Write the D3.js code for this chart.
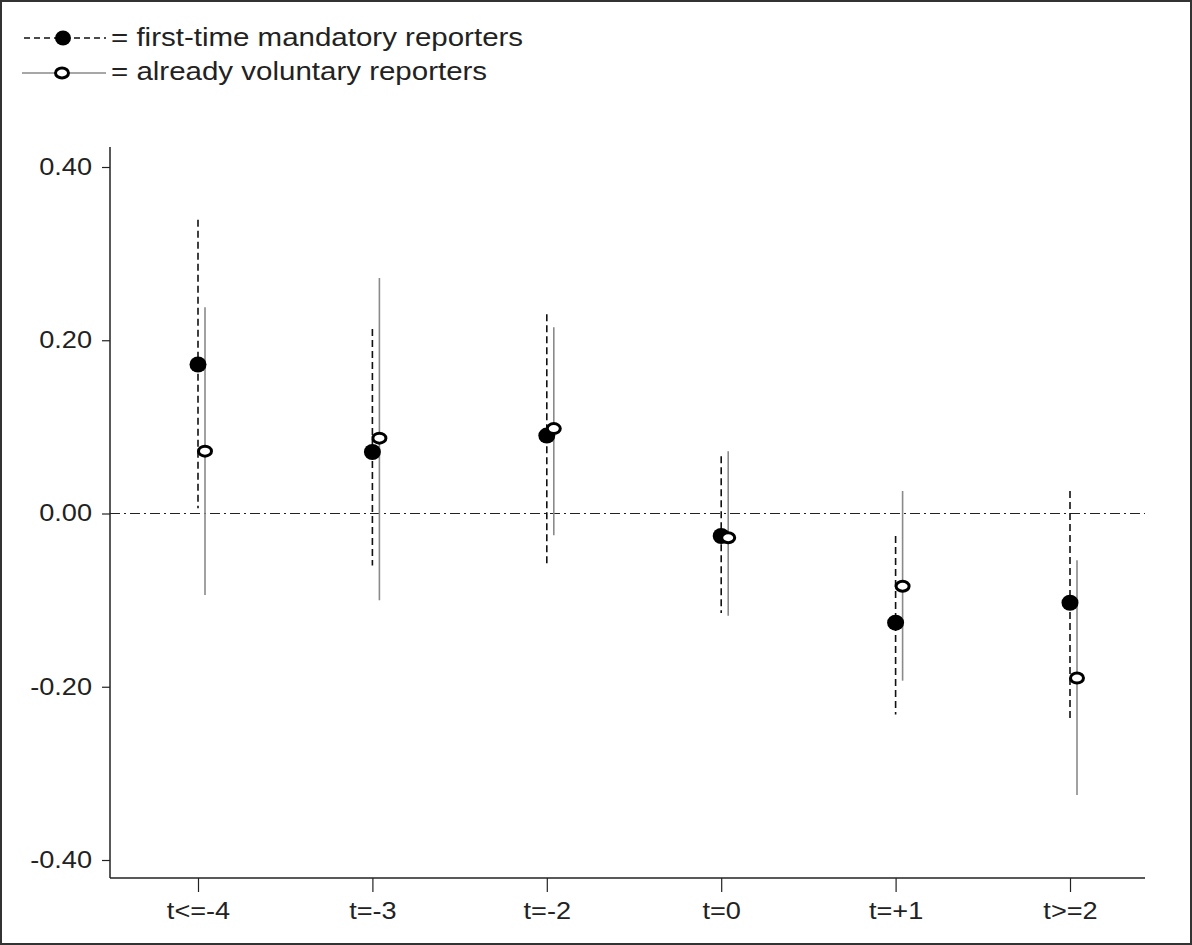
<!DOCTYPE html>
<html><head><meta charset="utf-8">
<script src="https://cdn.jsdelivr.net/npm/d3@7"></script>
<style>
html,body{margin:0;padding:0;background:#fff;}
svg{display:block;font-family:"Liberation Sans",Arial,sans-serif;}
</style></head>
<body>
<svg id="chart" width="1192" height="945"></svg>
<script>
const categories = ["t<=-4","t=-3","t=-2","t=0","t=+1","t>=2"];
const mandatoryEst = [0.172, 0.071, 0.090, -0.026, -0.126, -0.103];
const mandatoryLo  = [0.006, -0.060, -0.060, -0.115, -0.232, -0.239];
const mandatoryHi  = [0.339, 0.213, 0.230, 0.066, -0.026, 0.026];
const voluntaryEst = [0.072, 0.087, 0.098, -0.028, -0.084, -0.190];
const voluntaryLo  = [-0.094, -0.100, -0.025, -0.118, -0.193, -0.325];
const voluntaryHi  = [0.238, 0.272, 0.215, 0.072, 0.026, -0.054];
const yTicks = [0.40, 0.20, 0.00, -0.20, -0.40];
const legendLabels = ["= first-time mandatory reporters", "= already voluntary reporters"];

const SX = 1.18; // horizontal stretch of text in the reference
const svg = d3.select("#chart");
svg.append("rect").attr("x",1).attr("y",1).attr("width",1190).attr("height",943)
  .attr("fill","#fff").attr("stroke","#333").attr("stroke-width",2);

const x = d3.scalePoint().domain(categories).range([198,1070]);
const y = d3.scaleLinear().domain([-0.4,0.4]).range([860,167]);
const off = 7;

// axes lines
svg.append("line").attr("x1",110).attr("x2",110).attr("y1",147).attr("y2",878)
  .attr("stroke","#222").attr("stroke-width",1.5);
svg.append("line").attr("x1",110).attr("x2",1145).attr("y1",878).attr("y2",878)
  .attr("stroke","#222").attr("stroke-width",1.5);

// y axis
const fmt = d3.format(".2f");
const yAxis = d3.axisLeft(y).tickValues(yTicks).tickFormat(d => fmt(d).replace("\u2212","-")).tickSize(8).tickPadding(10);
const gy = svg.append("g").attr("transform","translate(110,0)").call(yAxis);
gy.select(".domain").remove();
gy.selectAll(".tick line").attr("stroke","#222").attr("stroke-width",1.2);
gy.selectAll(".tick text").each(function(){
  const t = d3.select(this); const tx = +t.attr("x");
  t.attr("x",0).attr("transform",`translate(${tx},0) scale(${SX},1)`);
}).attr("font-size",23).attr("fill","#222")
  .attr("font-family","'Liberation Sans',Arial,sans-serif");

// x axis
const xAxis = d3.axisBottom(x).tickSize(14).tickPadding(11);
const gx = svg.append("g").attr("transform","translate(0,878)").call(xAxis);
gx.select(".domain").remove();
gx.selectAll(".tick line").attr("stroke","#222").attr("stroke-width",1.2);
gx.selectAll(".tick text").attr("transform",`scale(${SX},1)`).attr("font-size",23).attr("fill","#222")
  .attr("font-family","'Liberation Sans',Arial,sans-serif");

// zero line
svg.append("line").attr("x1",110).attr("x2",1145).attr("y1",y(0)).attr("y2",y(0))
  .attr("stroke","#222").attr("stroke-width",1.2).attr("stroke-dasharray","10,4,2,4");

const idx = d3.range(categories.length);

// CI lines
svg.append("g").selectAll("line").data(idx).join("line")
  .attr("x1",i=>x(categories[i])+off).attr("x2",i=>x(categories[i])+off)
  .attr("y1",i=>y(voluntaryHi[i])).attr("y2",i=>y(voluntaryLo[i]))
  .attr("stroke","#8a8a8a").attr("stroke-width",1.6);
svg.append("g").selectAll("line").data(idx).join("line")
  .attr("x1",i=>x(categories[i])).attr("x2",i=>x(categories[i]))
  .attr("y1",i=>y(mandatoryHi[i])).attr("y2",i=>y(mandatoryLo[i]))
  .attr("stroke","#111").attr("stroke-width",1.6).attr("stroke-dasharray","7,4");

// markers
svg.append("g").selectAll("ellipse").data(idx).join("ellipse")
  .attr("cx",i=>x(categories[i])).attr("cy",i=>y(mandatoryEst[i]))
  .attr("rx",8.5).attr("ry",8).attr("fill","#000");
svg.append("g").selectAll("ellipse").data(idx).join("ellipse")
  .attr("cx",i=>x(categories[i])+off).attr("cy",i=>y(voluntaryEst[i]))
  .attr("rx",6.5).attr("ry",5).attr("fill","#fff").attr("stroke","#000").attr("stroke-width",3);

// legend
const lg = svg.append("g");
lg.append("line").attr("x1",24).attr("x2",106).attr("y1",38).attr("y2",38)
  .attr("stroke","#111").attr("stroke-width",1.6).attr("stroke-dasharray","6,4");
lg.append("ellipse").attr("cx",63).attr("cy",38).attr("rx",8).attr("ry",7.5).attr("fill","#000");
lg.append("line").attr("x1",22).attr("x2",106).attr("y1",73).attr("y2",73)
  .attr("stroke","#8a8a8a").attr("stroke-width",1.6);
lg.append("ellipse").attr("cx",62).attr("cy",73).attr("rx",6.5).attr("ry",5).attr("fill","#fff")
  .attr("stroke","#000").attr("stroke-width",3);
lg.selectAll("text").data(legendLabels).join("text")
  .attr("x",0).attr("y",0)
  .attr("transform",(d,i)=>`translate(111,${46+i*34}) scale(${SX},1)`)
  .attr("font-size",25).attr("fill","#222").text(d=>d);
</script>
</body></html>
